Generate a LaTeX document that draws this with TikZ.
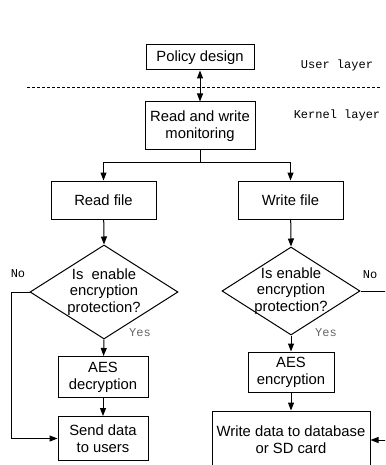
\documentclass[tikz,border=0pt]{standalone}
\usepackage{fontspec}
\setmainfont{Liberation Sans}
\newfontfamily\labelfont{Liberation Mono}
\usetikzlibrary{shapes.geometric,arrows.meta}

\begin{document}
\begin{tikzpicture}[
        x=1pt, y=-1pt,
        >={Triangle[length=8pt,width=6pt]},
        every node/.style={font=\fontsize{14.8}{16.8}\selectfont},
        box/.style={draw, line width=1pt, inner sep=0pt, align=center},
        ask/.style={draw, diamond, line width=1pt, inner sep=0pt},
        asktext/.style={align=center},
        layer/.style={font=\labelfont\fontsize{12}{14}\selectfont},
        yesno/.style={font=\labelfont\fontsize{12}{14}\selectfont},
        flow/.style={->, line width=1pt}
    ]
        \useasboundingbox (0,0) rectangle (385,465);
        \clip (0,0) rectangle (385,465);

        % user space / kernel space
        \node[box, minimum width=108pt, minimum height=25pt] (policy) at (200,57.5) {Policy design};
        \node[box, minimum width=110pt, minimum height=48pt] (rw) at (200,126) {Read and write\\ monitoring};
        \coordinate (sepL) at (27,87);
        \coordinate (sepR) at (380,87);
        \draw[dash pattern=on 3pt off 2pt, line width=0.8pt] (sepL) -- (sepR);
        \node[layer] (user) at (337,65) {User layer};
        \node[layer] (kernel) at (337,115) {Kernel layer};

        % read branch
        \node[box, minimum width=105pt, minimum height=38pt] (read) at (103.5,200) {Read file};
        \node[ask, minimum width=148pt, minimum height=94pt] (ask1) at (104,292) {};
        \node[asktext] (ask1txt) at (ask1) {Is~~enable\\ encryption\\ protection?};
        \node[box, minimum width=90pt, minimum height=41pt] (dec) at (103,377) {AES\\ decryption};
        \node[box, minimum width=90pt, minimum height=44pt] (send) at (103,438.5) {Send data\\ to users};

        % write branch
        \node[box, minimum width=105pt, minimum height=38pt] (write) at (290.5,200) {Write file};
        \node[ask, minimum width=138pt, minimum height=88pt] (ask2) at (291,291) {};
        \node[asktext] (ask2txt) at (ask2) {Is enable\\ encryption\\ protection?};
        \node[box, minimum width=86pt, minimum height=40pt] (enc) at (291,372) {AES\\ encryption};
        \node[box, minimum width=158pt, minimum height=58pt] (wdb) at (291,440) {Write data to database\\ or SD card};

        \node[yesno] (no1) at (18,274) {No};
        \node[yesno, text=black!60] (yes1) at (140,333) {Yes};
        \node[yesno] (no2) at (370,275) {No};
        \node[yesno, text=black!60] (yes2) at (326,333) {Yes};

        \coordinate (noright) at (390,291);
        \coordinate (fromright) at (390,440);

        \draw[<->, line width=1pt] (policy) -- (rw);
        \draw[flow] (rw.south) -- ++(0,12) -| (read.north);
        \draw[flow] (rw.south) -- ++(0,12) -| (write.north);
        \draw[flow] (read) -- (ask1.north);
        \draw[flow] (ask1.south) -- (dec);
        \draw[flow] (dec) -- (send);
        \draw[flow] (ask1.west) -- ++(-18,0) |- (send.west);
        \draw[flow] (write) -- (ask2.north);
        \draw[flow] (ask2.south) -- (enc);
        \draw[flow] (enc) -- (wdb);
        \draw[line width=1pt] (ask2.east) -- (noright);
        \draw[flow] (fromright) -- (wdb.east);
    \end{tikzpicture}
\end{document}
